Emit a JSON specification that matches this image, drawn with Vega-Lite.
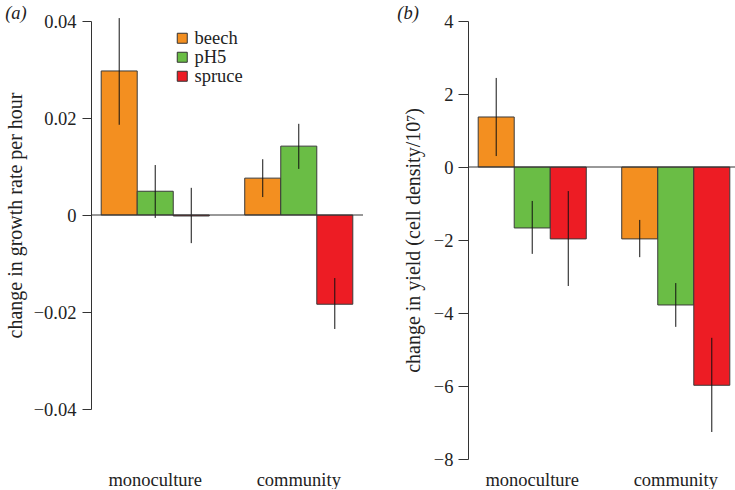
{
  "$schema": "https://vega.github.io/schema/vega-lite/v6.json",
  "padding": {"left": 5, "top": 3, "right": 0, "bottom": 0},
  "background": "white",
  "config": {
    "font": "Liberation Serif",
    "view": {"stroke": null},
    "concat": {"spacing": 33},
    "axis": {
      "grid": false,
      "domainColor": "#333333",
      "tickColor": "#333333",
      "labelColor": "#222222",
      "titleColor": "#222222",
      "titleFont": "Liberation Serif",
      "labelFontSize": 18,
      "titleFontSize": 20,
      "titleFontWeight": "normal"
    },
    "legend": {"labelFont": "Liberation Serif"},
    "title": {"font": "Liberation Serif", "fontSize": 18.5, "fontStyle": "italic", "fontWeight": "normal", "color": "#222222", "anchor": "start", "frame": "bounds", "offset": -10}
  },
  "resolve": {"scale": {"color": "independent"}, "legend": {"color": "independent"}},
  "hconcat": [
    {
      "width": 272,
      "height": 388,
      "title": {"text": "(a)"},
      "data": {"values": [
        {"group": "monoculture", "treatment": "beech", "value": 0.0297, "lo": 0.0186, "hi": 0.0406},
        {"group": "monoculture", "treatment": "pH5", "value": 0.0049, "lo": -0.0006, "hi": 0.0103},
        {"group": "monoculture", "treatment": "spruce", "value": -0.0002, "lo": -0.0058, "hi": 0.0056},
        {"group": "community", "treatment": "beech", "value": 0.0076, "lo": 0.0037, "hi": 0.0115},
        {"group": "community", "treatment": "pH5", "value": 0.0142, "lo": 0.0095, "hi": 0.0188},
        {"group": "community", "treatment": "spruce", "value": -0.0184, "lo": -0.0235, "hi": -0.013}
      ]},
      "layer": [
        {
          "mark": {"type": "bar", "stroke": "#3a3a3a", "strokeWidth": 1},
          "encoding": {
            "x": {"field": "group", "type": "nominal", "sort": ["monoculture", "community"],
                  "scale": {"paddingInner": 0.247, "paddingOuter": 0.071},
                  "axis": {"title": null, "labelAngle": 0, "domain": false, "ticks": false, "labelPadding": 61, "labelFont": "serif", "labelFontSize": 18.5}},
            "xOffset": {"field": "treatment", "type": "nominal", "sort": ["beech", "pH5", "spruce"], "scale": {"paddingInner": 0, "paddingOuter": 0}},
            "y": {"field": "value", "type": "quantitative",
                  "scale": {"domain": [-0.04, 0.04], "nice": false, "zero": false},
                  "axis": {"title": "change in growth rate per hour", "values": [-0.04, -0.02, 0, 0.02, 0.04], "format": ".2~f", "tickSize": 9, "labelPadding": 6, "titlePadding": 8, "labelFont": "serif", "labelFontSize": 18.5}},
            "color": {"field": "treatment", "type": "nominal",
                      "scale": {"domain": ["beech", "pH5", "spruce"], "range": ["#F38F20", "#6ABD45", "#ED1C24"]},
                      "legend": {"title": null, "orient": "none", "legendX": 82, "legendY": 8, "padding": 0,
                                 "symbolType": "square", "symbolSize": 100, "symbolStrokeColor": "#333333", "symbolStrokeWidth": 1,
                                 "symbolOpacity": 1, "labelFontSize": 18.5, "labelColor": "#222222", "labelOffset": 3, "rowPadding": -2}}
          }
        },
        {
          "mark": {"type": "rule", "color": "#111111", "strokeWidth": 1},
          "encoding": {
            "x": {"field": "group", "type": "nominal", "sort": ["monoculture", "community"]},
            "xOffset": {"field": "treatment", "type": "nominal", "sort": ["beech", "pH5", "spruce"]},
            "y": {"field": "lo", "type": "quantitative"},
            "y2": {"field": "hi"}
          }
        },
        {
          "data": {"values": [{"zero": 0}]},
          "mark": {"type": "rule", "color": "#333333", "strokeWidth": 1},
          "encoding": {"y": {"field": "zero", "type": "quantitative"}}
        }
      ]
    },
    {
      "width": 272,
      "height": 438,
      "title": {"text": "(b)", "dx": -6},
      "data": {"values": [
        {"group": "monoculture", "treatment": "beech", "value": 1.37, "lo": 0.3, "hi": 2.44},
        {"group": "monoculture", "treatment": "pH5", "value": -1.67, "lo": -2.38, "hi": -0.93},
        {"group": "monoculture", "treatment": "spruce", "value": -1.97, "lo": -3.26, "hi": -0.66},
        {"group": "community", "treatment": "beech", "value": -1.97, "lo": -2.47, "hi": -1.45},
        {"group": "community", "treatment": "pH5", "value": -3.78, "lo": -4.38, "hi": -3.18},
        {"group": "community", "treatment": "spruce", "value": -5.98, "lo": -7.26, "hi": -4.68}
      ]},
      "layer": [
        {
          "mark": {"type": "bar", "stroke": "#3a3a3a", "strokeWidth": 1},
          "encoding": {
            "x": {"field": "group", "type": "nominal", "sort": ["monoculture", "community"],
                  "scale": {"paddingInner": 0.247, "paddingOuter": 0.071},
                  "axis": {"title": null, "labelAngle": 0, "domain": false, "ticks": false, "labelPadding": 11, "labelFont": "serif", "labelFontSize": 18.5}},
            "xOffset": {"field": "treatment", "type": "nominal", "sort": ["beech", "pH5", "spruce"], "scale": {"paddingInner": 0, "paddingOuter": 0}},
            "y": {"field": "value", "type": "quantitative",
                  "scale": {"domain": [-8, 4], "nice": false, "zero": false},
                  "axis": {"title": "change in yield (cell density/10⁷)", "values": [-8, -6, -4, -2, 0, 2, 4], "format": "d", "tickSize": 10, "labelPadding": 5, "titlePadding": 10, "labelFont": "serif", "labelFontSize": 18.5}},
            "color": {"field": "treatment", "type": "nominal",
                      "scale": {"domain": ["beech", "pH5", "spruce"], "range": ["#F38F20", "#6ABD45", "#ED1C24"]},
                      "legend": null}
          }
        },
        {
          "mark": {"type": "rule", "color": "#111111", "strokeWidth": 1},
          "encoding": {
            "x": {"field": "group", "type": "nominal", "sort": ["monoculture", "community"]},
            "xOffset": {"field": "treatment", "type": "nominal", "sort": ["beech", "pH5", "spruce"]},
            "y": {"field": "lo", "type": "quantitative"},
            "y2": {"field": "hi"}
          }
        },
        {
          "data": {"values": [{"zero": 0}]},
          "mark": {"type": "rule", "color": "#333333", "strokeWidth": 1},
          "encoding": {"y": {"field": "zero", "type": "quantitative"}}
        }
      ]
    }
  ]
}
